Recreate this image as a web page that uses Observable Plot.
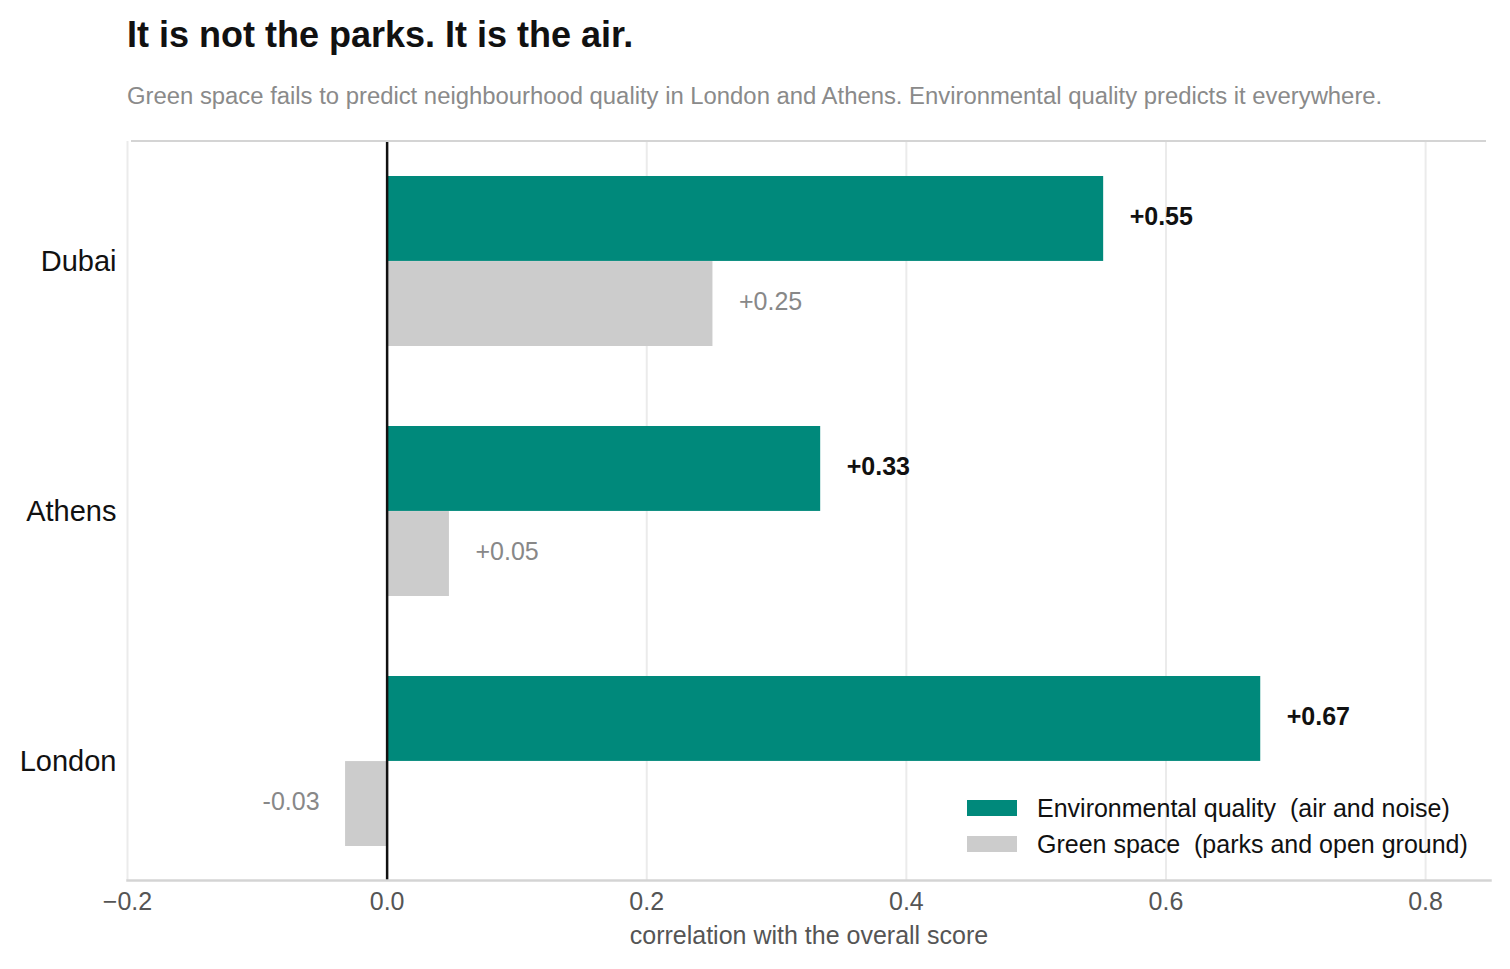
<!DOCTYPE html>
<html>
<head>
<meta charset="utf-8">
<script src="https://cdn.jsdelivr.net/npm/d3@7"></script>
<script src="https://cdn.jsdelivr.net/npm/@observablehq/plot@0.6"></script>
<style>
  html, body { margin: 0; padding: 0; background: #fff; }
  body { font-family: "Liberation Sans", Arial, sans-serif; width: 1510px; height: 969px; position: relative; overflow: hidden; }
  #header { position: relative; height: 125px; }
  #title { position: absolute; left: 127px; top: 16.5px; font-size: 36px; line-height: 36px; font-weight: bold; color: #111; white-space: nowrap; }
  #subtitle { position: absolute; left: 127px; top: 83.5px; font-size: 23.85px; line-height: 24px; color: #8a8a8a; white-space: nowrap; }
  #topline { position: absolute; left: 131px; width: 1355px; top: 139.5px; height: 2.5px; background: #d4d4d4; }
  #legend { position: absolute; left: 967px; top: 790px; font-size: 25px; color: #111; }
  .lg { display: flex; align-items: center; height: 36px; white-space: pre; }
  .sw { width: 50px; height: 16px; margin-right: 20px; }
</style>
</head>
<body>
<div id="header">
  <div id="title">It is not the parks. It is the air.</div>
  <div id="subtitle">Green space fails to predict neighbourhood quality in London and Athens. Environmental quality predicts it everywhere.</div>
</div>
<div id="topline"></div>
<div id="chart"></div>
<div id="legend"></div>
<script>
const cities = ["Dubai", "Athens", "London"];
const envValues = [0.552, 0.334, 0.673];
const greenValues = [0.251, 0.048, -0.032];
const xTicks = [-0.2, 0, 0.2, 0.4, 0.6, 0.8];
const xDomain = [-0.2, 0.85];
const seriesNames = ["Environmental quality  (air and noise)", "Green space  (parks and open ground)"];
const seriesColors = ["#00897b", "#cccccc"];

const env = cities.map((c, i) => ({city: c, value: envValues[i]}));
const green = cities.map((c, i) => ({city: c, value: greenValues[i]}));

const width = 1510, height = 844;
const marginTop = 16, marginBottom = 89, marginLeft = 127, marginRight = 20;
const yOpts = {domain: cities, paddingInner: 0.321, paddingOuter: 0.135};
const yScale = Plot.scale({y: {type: "band", ...yOpts, range: [marginTop, height - marginBottom]}});
const bw = yScale.bandwidth;

const fmt = v => (v >= 0 ? "+" : "-") + Math.abs(v).toFixed(2);

const plot = Plot.plot({
  width, height, marginTop, marginBottom, marginLeft, marginRight,
  style: {fontFamily: "'Liberation Sans', Arial, sans-serif", background: "#fff"},
  x: {domain: xDomain},
  y: {type: "band", ...yOpts},
  marks: [
    Plot.ruleX(xTicks, {stroke: "#ebebeb", strokeWidth: 2}),
    Plot.barX(env, {x: "value", y: "city", fill: seriesColors[0], insetBottom: bw / 2, insetTop: 0}),
    Plot.barX(green, {x: "value", y: "city", fill: seriesColors[1], insetTop: bw / 2, insetBottom: 0}),
    Plot.ruleX([0], {stroke: "#111", strokeWidth: 2.5}),
    Plot.frame({anchor: "bottom", stroke: "#d4d4d4", strokeWidth: 2.5}),
    Plot.text(env, {x: "value", y: "city", text: d => fmt(d.value), dy: -bw / 4 - 2, dx: 26, textAnchor: "start", fontSize: 25, fontWeight: "bold", fill: "#111"}),
    Plot.text(green.filter(d => d.value >= 0), {x: "value", y: "city", text: d => fmt(d.value), dy: bw / 4 - 2, dx: 26, textAnchor: "start", fontSize: 25, fill: "#888"}),
    Plot.text(green.filter(d => d.value < 0), {x: "value", y: "city", text: d => fmt(d.value), dy: bw / 4 - 2, dx: -26, textAnchor: "end", fontSize: 25, fill: "#888"}),
    Plot.axisY({tickSize: 0, tickPadding: 11, fontSize: 29, fill: "#111", label: null}),
    Plot.axisX({ticks: xTicks, tickSize: 0, tickPadding: 12, fontSize: 25, fill: "#555", tickFormat: d3.format(".1f"),
      label: "correlation with the overall score", labelAnchor: "center", labelArrow: "none", labelOffset: 63})
  ]
});
document.getElementById("chart").appendChild(plot);

const legend = document.getElementById("legend");
seriesNames.forEach((name, i) => {
  const row = document.createElement("div");
  row.className = "lg";
  const sw = document.createElement("div");
  sw.className = "sw";
  sw.style.background = seriesColors[i];
  const t = document.createElement("span");
  t.textContent = name;
  row.appendChild(sw);
  row.appendChild(t);
  legend.appendChild(row);
});
</script>
</body>
</html>
